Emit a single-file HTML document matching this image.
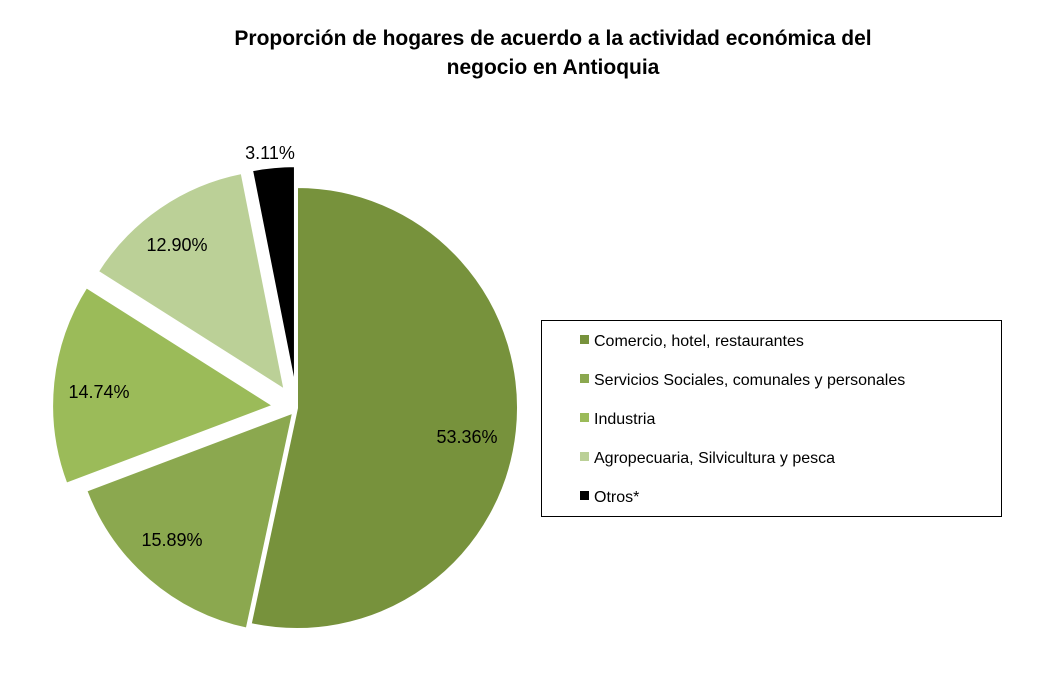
<!DOCTYPE html>
<html><head><meta charset="utf-8"><style>
body{margin:0;background:#fff;font-family:"Liberation Sans",Arial,sans-serif}
svg{display:block}
</style></head><body>
<svg width="1055" height="681" xmlns="http://www.w3.org/2000/svg">
<text x="553" y="45" text-anchor="middle" font-size="21" font-weight="bold">Proporción de hogares de acuerdo a la actividad económica del</text>
<text x="553" y="74" text-anchor="middle" font-size="21" font-weight="bold">negocio en Antioquia</text>
<g id="slices"></g>
<g id="labels" font-size="18"></g>
<rect x="541.5" y="320.5" width="460" height="196" fill="#fff" stroke="#000"/>
<g id="legend" font-size="16"></g>
</svg>
<script>
const categories=["Comercio, hotel, restaurantes","Servicios Sociales, comunales y personales","Industria","Agropecuaria, Silvicultura y pesca","Otros*"];
const values=[53.36,15.89,14.74,12.90,3.11];
const valueLabels=["53.36%","15.89%","14.74%","12.90%","3.11%"];
const colors=["#77923c","#8ba84f","#9bbb59","#bbd097","#000000"];
const explode=[0,6,24,22,21];
const labelPos=[[467,437],[172,540],[99,392],[177,245],[270,153]];
const cx=297,cy=408,r=221,NS="http://www.w3.org/2000/svg";
const total=values.reduce((a,b)=>a+b,0);
const sg=document.getElementById('slices'),lg=document.getElementById('labels'),leg=document.getElementById('legend');
let a0=0;
values.forEach((v,i)=>{
 const a1=a0+v/total*2*Math.PI, mid=(a0+a1)/2;
 const ox=Math.sin(mid)*explode[i], oy=-Math.cos(mid)*explode[i];
 const x0=cx+ox+r*Math.sin(a0), y0=cy+oy-r*Math.cos(a0), x1=cx+ox+r*Math.sin(a1), y1=cy+oy-r*Math.cos(a1);
 const p=document.createElementNS(NS,'path');
 p.setAttribute('d',`M${cx+ox},${cy+oy}L${x0},${y0}A${r},${r} 0 ${a1-a0>Math.PI?1:0} 1 ${x1},${y1}Z`);
 p.setAttribute('fill',colors[i]);p.setAttribute('stroke','#fff');p.setAttribute('stroke-width','2');
 
 
 sg.appendChild(p);
 const t=document.createElementNS(NS,'text');
 t.setAttribute('x',labelPos[i][0]);t.setAttribute('y',labelPos[i][1]+6);t.setAttribute('text-anchor','middle');
 t.textContent=valueLabels[i];
 
 
 lg.appendChild(t);
 const y=340+i*39;
 const s=document.createElementNS(NS,'rect');
 s.setAttribute('x',580);s.setAttribute('y',y-5);s.setAttribute('width',9);s.setAttribute('height',9);s.setAttribute('fill',colors[i]);
 
 
 leg.appendChild(s);
 const lt=document.createElementNS(NS,'text');
 lt.setAttribute('x',594);lt.setAttribute('y',y+6);lt.textContent=categories[i];
 
 
 leg.appendChild(lt);
 a0=a1;
});
</script>
</body></html>
